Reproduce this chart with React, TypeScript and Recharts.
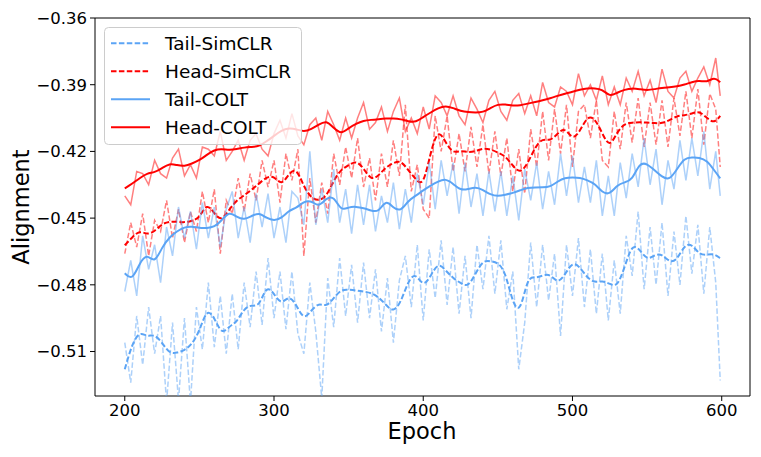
import { LineChart, Line, XAxis, YAxis, ReferenceArea, Label } from 'recharts';

// x grids: smoothed curves every 5 epochs, raw curves every 4 epochs (last epoch 599)
const smoothEpochs = [...Array.from({ length: 80 }, (_, i) => 200 + 5 * i), 599];
const rawEpochs = [...Array.from({ length: 100 }, (_, i) => 200 + 4 * i), 599];

const xTicks = [200, 300, 400, 500, 600];
const yTicks = [-0.51, -0.48, -0.45, -0.42, -0.39, -0.36];

const headColtSmooth = [
  -0.4366, -0.4345, -0.432, -0.4298, -0.4295, -0.4275, -0.4254, -0.4262, -0.4267, -0.4255,
  -0.424, -0.4215, -0.4193, -0.4188, -0.4195, -0.419, -0.4182, -0.418, -0.4177, -0.4155,
  -0.413, -0.4105, -0.4095, -0.41, -0.4112, -0.41, -0.408, -0.406, -0.4095, -0.4123,
  -0.4095, -0.4075, -0.4062, -0.4058, -0.4055, -0.4052, -0.4051, -0.4055, -0.4065, -0.4069,
  -0.4045, -0.4025, -0.4005, -0.3995, -0.4005, -0.4018, -0.4024, -0.4025, -0.4024, -0.4005,
  -0.3988, -0.3988, -0.3995, -0.3993, -0.3985, -0.3978, -0.397, -0.3961, -0.395, -0.394,
  -0.3932, -0.3922, -0.3916, -0.3916, -0.392, -0.3955, -0.3935, -0.3922, -0.3916, -0.392,
  -0.3925, -0.392, -0.3914, -0.3912, -0.3908, -0.39, -0.3888, -0.388, -0.389, -0.3865,
  -0.3889,
];
const headColtRaw = [
  -0.44, -0.444, -0.429, -0.43, -0.435, -0.424, -0.43, -0.432, -0.423, -0.419,
  -0.431, -0.426, -0.432, -0.418, -0.419, -0.422, -0.411, -0.424, -0.42, -0.415,
  -0.424, -0.415, -0.412, -0.419, -0.422, -0.412, -0.406, -0.414, -0.403, -0.413,
  -0.417, -0.408, -0.405, -0.415, -0.402, -0.408, -0.415, -0.405, -0.414, -0.405,
  -0.398, -0.41, -0.407, -0.4, -0.411, -0.402, -0.396, -0.411, -0.405, -0.412,
  -0.4, -0.41, -0.395, -0.398, -0.404, -0.395, -0.404, -0.408, -0.396, -0.401,
  -0.407, -0.397, -0.393, -0.402, -0.406, -0.397, -0.394, -0.403, -0.395, -0.404,
  -0.389, -0.398, -0.4, -0.391, -0.393, -0.399, -0.385, -0.395, -0.39, -0.397,
  -0.386, -0.399, -0.391, -0.399, -0.387, -0.393, -0.384, -0.395, -0.388, -0.398,
  -0.383, -0.393, -0.396, -0.387, -0.384, -0.393, -0.387, -0.382, -0.39, -0.378,
  -0.395,
];

const headSimSmooth = [
  -0.4622, -0.4586, -0.4555, -0.4575, -0.456, -0.4525, -0.4515, -0.4516, -0.452, -0.4512,
  -0.4501, -0.443, -0.448, -0.4515, -0.446, -0.442, -0.4398, -0.4372, -0.4345, -0.4315,
  -0.431, -0.4355, -0.43, -0.4272, -0.436, -0.441, -0.4422, -0.4405, -0.433, -0.428,
  -0.4263, -0.424, -0.4275, -0.433, -0.431, -0.427, -0.4252, -0.424, -0.4285, -0.4325,
  -0.436, -0.42, -0.4096, -0.416, -0.421, -0.4195, -0.4205, -0.42, -0.4185, -0.419,
  -0.4205, -0.422, -0.4265, -0.43, -0.4255, -0.418, -0.414, -0.4155, -0.412, -0.409,
  -0.415, -0.411, -0.404, -0.405, -0.412, -0.4185, -0.411, -0.4075, -0.407, -0.4069,
  -0.407, -0.4073, -0.4074, -0.406, -0.404, -0.4038, -0.403, -0.4018, -0.405, -0.4074,
  -0.404,
];
const headSimRaw = [
  -0.466, -0.452, -0.463, -0.448, -0.467, -0.451, -0.456, -0.442, -0.459, -0.446,
  -0.461, -0.447, -0.456, -0.438, -0.452, -0.437, -0.466, -0.442, -0.448, -0.432,
  -0.447, -0.43, -0.442, -0.424, -0.436, -0.424, -0.443, -0.421, -0.433, -0.419,
  -0.467, -0.432, -0.452, -0.434, -0.448, -0.421, -0.435, -0.418, -0.432, -0.414,
  -0.436, -0.423, -0.442, -0.421, -0.436, -0.415, -0.431, -0.399, -0.438, -0.426,
  -0.446, -0.45, -0.404, -0.42, -0.404, -0.429, -0.412, -0.429, -0.409, -0.427,
  -0.408, -0.43, -0.411, -0.431, -0.414, -0.438, -0.419, -0.439, -0.41, -0.427,
  -0.402, -0.424, -0.401, -0.421, -0.399, -0.427, -0.402, -0.399, -0.414, -0.397,
  -0.424, -0.427, -0.402, -0.419, -0.398, -0.416, -0.396, -0.418, -0.398, -0.417,
  -0.397, -0.418, -0.396, -0.413, -0.393, -0.414, -0.392, -0.417, -0.394, -0.401,
  -0.427,
];

const tailColtSmooth = [
  -0.4748, -0.4782, -0.47, -0.466, -0.4705, -0.463, -0.4585, -0.4559, -0.454, -0.4537,
  -0.4545, -0.4545, -0.4541, -0.451, -0.4469, -0.4495, -0.4508, -0.449, -0.4475, -0.45,
  -0.4512, -0.4501, -0.4465, -0.4455, -0.4425, -0.442, -0.4452, -0.441, -0.44, -0.4469,
  -0.445, -0.4448, -0.4455, -0.4466, -0.4475, -0.4415, -0.4455, -0.447, -0.442, -0.44,
  -0.4375, -0.4353, -0.4335, -0.4322, -0.4345, -0.4375, -0.437, -0.436, -0.4372, -0.4395,
  -0.4402, -0.4395, -0.4387, -0.4375, -0.4362, -0.4362, -0.4362, -0.436, -0.4335, -0.4318,
  -0.4317, -0.4318, -0.433, -0.4345, -0.4385, -0.4395, -0.435, -0.4339, -0.433, -0.425,
  -0.4255, -0.4285, -0.4315, -0.433, -0.428, -0.423, -0.4227, -0.4227, -0.424, -0.4285,
  -0.4321,
];
const tailColtRaw = [
  -0.483, -0.469, -0.485, -0.458, -0.473, -0.462, -0.479, -0.454, -0.467, -0.445,
  -0.459, -0.447, -0.464, -0.443, -0.459, -0.445, -0.463, -0.446, -0.438, -0.459,
  -0.445, -0.461, -0.439, -0.454, -0.439, -0.459, -0.445, -0.461, -0.438, -0.441,
  -0.453, -0.42, -0.453, -0.437, -0.452, -0.428, -0.452, -0.437, -0.457, -0.435,
  -0.453, -0.435, -0.456, -0.44, -0.452, -0.434, -0.455, -0.437, -0.452, -0.43,
  -0.444, -0.425, -0.446, -0.424, -0.44, -0.425, -0.448, -0.425, -0.445, -0.43,
  -0.449, -0.429, -0.447, -0.429, -0.449, -0.431, -0.451, -0.428, -0.442, -0.425,
  -0.446, -0.429, -0.444, -0.421, -0.44, -0.422, -0.443, -0.427, -0.443, -0.424,
  -0.449, -0.431, -0.449, -0.425, -0.441, -0.421, -0.436, -0.414, -0.435, -0.419,
  -0.444, -0.424, -0.437, -0.415, -0.433, -0.414, -0.431, -0.411, -0.437, -0.42,
  -0.44,
];

const tailSimSmooth = [
  -0.518, -0.5063, -0.501, -0.5034, -0.5022, -0.506, -0.511, -0.5105, -0.5095, -0.5068,
  -0.501, -0.4906, -0.4945, -0.5027, -0.4985, -0.497, -0.4905, -0.489, -0.49, -0.48,
  -0.484, -0.4892, -0.4845, -0.489, -0.496, -0.4915, -0.488, -0.49, -0.486, -0.482,
  -0.4822, -0.4825, -0.483, -0.4836, -0.4855, -0.489, -0.4924, -0.488, -0.478, -0.4745,
  -0.4811, -0.476, -0.4699, -0.4735, -0.477, -0.4792, -0.4811, -0.475, -0.469, -0.4694,
  -0.4699, -0.474, -0.4885, -0.493, -0.476, -0.477, -0.4758, -0.475, -0.4795, -0.4755,
  -0.4695, -0.472, -0.477, -0.479, -0.4782, -0.4795, -0.4811, -0.472, -0.4615, -0.464,
  -0.469, -0.4665, -0.466, -0.47, -0.469, -0.462, -0.4615, -0.4665, -0.4665, -0.466,
  -0.4681,
];
const tailSimRaw = [
  -0.506, -0.524, -0.494, -0.516, -0.49, -0.511, -0.494, -0.533, -0.497, -0.532,
  -0.495, -0.533, -0.49, -0.509, -0.479, -0.508, -0.485, -0.511, -0.484, -0.509,
  -0.479, -0.499, -0.474, -0.498, -0.468, -0.495, -0.474, -0.5, -0.474, -0.502,
  -0.511, -0.479, -0.501, -0.531, -0.477, -0.499, -0.468, -0.494, -0.471, -0.497,
  -0.47, -0.495, -0.473, -0.501, -0.477, -0.506, -0.478, -0.467, -0.49, -0.462,
  -0.496, -0.464, -0.486, -0.46, -0.489, -0.463, -0.493, -0.467, -0.495, -0.462,
  -0.482, -0.458, -0.484, -0.46, -0.491, -0.474, -0.518, -0.497, -0.461, -0.49,
  -0.462, -0.487, -0.466, -0.503, -0.462, -0.485, -0.459, -0.49, -0.464, -0.493,
  -0.466, -0.496, -0.469, -0.493, -0.458, -0.476, -0.447, -0.482, -0.454, -0.48,
  -0.452, -0.485, -0.456, -0.48, -0.449, -0.475, -0.453, -0.484, -0.454, -0.479,
  -0.523,
];

const TAIL = '#5ba4f5';
const HEAD = '#ff0000';
const FONT = 'DejaVu Sans, sans-serif';
const DASH = '5.5 2.4';

const toPoints = (epochs: number[], values: number[]) =>
  epochs.map((epoch, i) => ({ epoch, v: values[i] }));

const series = [
  { key: 'ts-raw', data: toPoints(rawEpochs, tailSimRaw), color: TAIL, dash: DASH, raw: true },
  { key: 'ts', data: toPoints(smoothEpochs, tailSimSmooth), color: TAIL, dash: DASH, raw: false },
  { key: 'hs-raw', data: toPoints(rawEpochs, headSimRaw), color: HEAD, dash: DASH, raw: true },
  { key: 'hs', data: toPoints(smoothEpochs, headSimSmooth), color: HEAD, dash: DASH, raw: false },
  { key: 'tc-raw', data: toPoints(rawEpochs, tailColtRaw), color: TAIL, dash: undefined, raw: true },
  { key: 'tc', data: toPoints(smoothEpochs, tailColtSmooth), color: TAIL, dash: undefined, raw: false },
  { key: 'hc-raw', data: toPoints(rawEpochs, headColtRaw), color: HEAD, dash: undefined, raw: true },
  { key: 'hc', data: toPoints(smoothEpochs, headColtSmooth), color: HEAD, dash: undefined, raw: false },
];

const legendItems = [
  { name: 'Tail-SimCLR', color: TAIL, dash: DASH },
  { name: 'Head-SimCLR', color: HEAD, dash: DASH },
  { name: 'Tail-COLT', color: TAIL, dash: undefined },
  { name: 'Head-COLT', color: HEAD, dash: undefined },
];

const fmt = (v: number) => (v < 0 ? '\u2212' : '') + Math.abs(v).toFixed(2);

export default function App() {
  return (
    <div style={{ position: 'absolute', left: 0, top: 0, width: 761, height: 457, background: '#fff' }}>
      <LineChart width={761} height={457} margin={{ top: 18, right: 11, bottom: 21, left: 0 }}>
        <XAxis
          type="number"
          dataKey="epoch"
          domain={[180.05, 618.95]}
          ticks={xTicks}
          allowDataOverflow
          height={40}
          axisLine={false}
          tickSize={5}
          tickMargin={3}
          tickLine={{ stroke: '#000' }}
          tick={{ fontSize: 16.5, fill: '#000', fontFamily: FONT }}
        >
          <Label
            content={() => (
              <text x={422} y={439} textAnchor="middle" fontSize={22.5} fontFamily={FONT} fill="#000">
                Epoch
              </text>
            )}
          />
        </XAxis>
        <YAxis
          type="number"
          domain={[-0.53, -0.36]}
          ticks={yTicks}
          allowDataOverflow
          width={95}
          axisLine={false}
          tickSize={5}
          tickMargin={3}
          tickLine={{ stroke: '#000' }}
          tickFormatter={fmt}
          tick={{ fontSize: 16.5, fill: '#000', fontFamily: FONT }}
        >
          <Label
            content={() => (
              <text
                x={29}
                y={207}
                textAnchor="middle"
                fontSize={22.5}
                fontFamily={FONT}
                fill="#000"
                transform="rotate(-90, 29, 207)"
              >
                Alignment
              </text>
            )}
          />
        </YAxis>
        {series.map((s) => (
          <Line
            key={s.key}
            data={s.data}
            dataKey="v"
            type={s.raw ? 'linear' : 'basis'}
            stroke={s.color}
            strokeOpacity={s.raw ? 0.5 : 1}
            strokeWidth={s.raw ? 1.5 : 2}
            strokeDasharray={s.dash}
            dot={false}
            activeDot={false}
            isAnimationActive={false}
          />
        ))}
        <ReferenceArea
          x1={180.05}
          x2={618.95}
          y1={-0.53}
          y2={-0.36}
          fill="none"
          stroke="#000"
          strokeWidth={1}
          ifOverflow="visible"
        />
      </LineChart>
      <svg width={198} height={118} style={{ position: 'absolute', left: 104, top: 27 }}>
        <rect x={0.5} y={0.5} width={197} height={117} rx={4} fill="#fff" fillOpacity={0.8} stroke="#cccccc" />
        {legendItems.map((it, i) => (
          <g key={it.name}>
            <line
              x1={7}
              x2={46}
              y1={16.3 + 28 * i}
              y2={16.3 + 28 * i}
              stroke={it.color}
              strokeWidth={2}
              strokeDasharray={it.dash}
            />
            <text x={61} y={23 + 28 * i} fontSize={18.5} fontFamily={FONT} fill="#000">
              {it.name}
            </text>
          </g>
        ))}
      </svg>
    </div>
  );
}
